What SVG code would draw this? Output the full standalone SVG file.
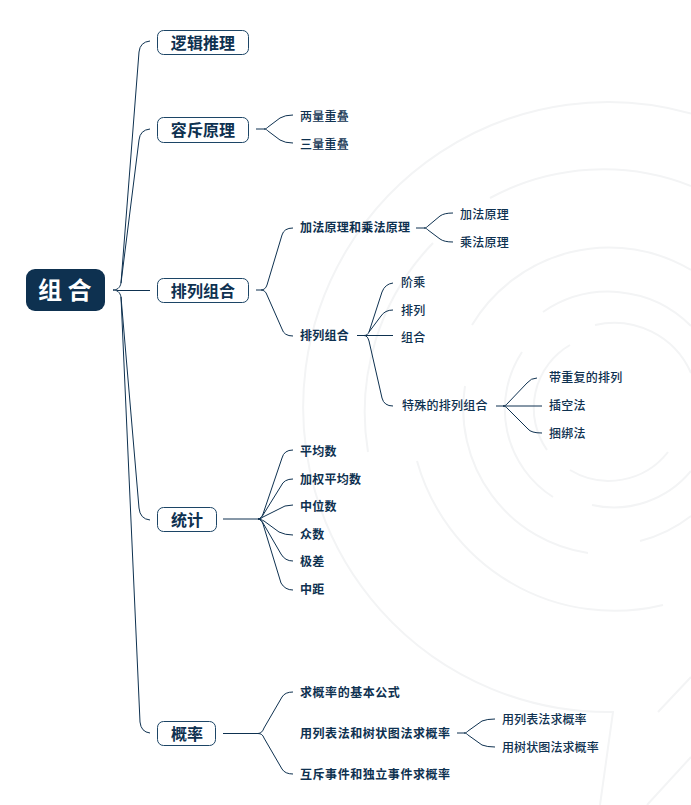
<svg xmlns="http://www.w3.org/2000/svg" width="691" height="805" viewBox="0 0 691 805">
<style>
text{font-family:"Noto Sans CJK SC","Noto Sans",sans-serif;fill:#0e3150}
.bg{fill:none;stroke:#f3f4f5;stroke-width:2}
.c{fill:none;stroke:#0e3150;stroke-width:1}
.box{fill:#fff;stroke:#1c4566;stroke-width:1}
.t1{font-size:16px;font-weight:700;text-anchor:middle;letter-spacing:.1px}
.b{font-size:12px;font-weight:700;letter-spacing:.25px}
.w{letter-spacing:.55px}
.r{font-size:12px;font-weight:500;letter-spacing:.25px}
.n{letter-spacing:.1px}
</style>
<rect width="691" height="805" fill="#fff"/>
<g id="background">
<path class="bg" d="M691 113.500A305 305 0 1 0 613 712L600 805"/>
<path class="bg" d="M490 198A238 238 0 0 1 691 186"/>
<path class="bg" d="M433 243A244 244 0 0 0 368 452"/>
<path class="bg" d="M417 461A205 205 0 0 0 663 605"/>
<path class="bg" d="M472 325A160 160 0 0 1 691 270"/>
<path class="bg" d="M543 312A116 116 0 0 1 691 326"/>
<path class="bg" d="M595 325A84 84 0 0 1 691 373"/>
<path class="bg" d="M465 386A146 146 0 0 0 588 553"/>
<path class="bg" d="M522 352A104 104 0 0 0 553 497"/>
<path class="bg" d="M570 345A73 73 0 0 0 547 450"/>
<path class="bg" d="M570 470A75 75 0 0 0 668 452"/>
<path class="bg" d="M592 505A100 100 0 0 0 691 471"/>
<path class="bg" d="M640 541A138 138 0 0 0 691 516"/>
<path class="bg" d="M658 712L691 677"/>
<path class="bg" d="M647 805L691 757"/>
</g>
<g id="connectors">
<path class="c" d="M113 290C117 290 120 288 121 283L139 52Q140 42 150 41"/>
<path class="c" d="M121 283L139 140Q140 130 150 129"/>
<path class="c" d="M117 290.500H150"/>
<path class="c" d="M113 290C117 290 120 292 121 297L139 508Q140 519 150 520"/>
<path class="c" d="M121 297L140 722Q141 732 150 733"/>
<path class="c" d="M256 129H264C266 129 267 128 268 127L280 118Q285 115 293 115M264 129C266 129 267 130 268 131L280 140Q285 143 293 143"/>
<path class="c" d="M256 290H261C264 290 266 288 267 285L282 235Q284 228 293 228M261 290C264 290 266 292 267 295L282 329Q284 336 293 336"/>
<path class="c" d="M416 228H424C426 228 427 227 428 226L440 216Q444 213 453 213M424 228C426 228 427 229 428 230L440 239Q444 242 453 242"/>
<path class="c" d="M357 335.500H393M364 335.500C367 335.500 368 334 369 332L382 292Q385 284 393 283M369 332L381 316Q385 310 393 310M364 335.500C367 335.500 368 338 369 341L382 398Q384 406 393 406"/>
<path class="c" d="M496 406H542M503 406C505 406 506 405 507 404L527 383Q531 378 537 378M503 406C505 406 506 407 507 408L528 429Q531 433 542 433"/>
<path class="c" d="M223 519H258C260 519 262 517 263 514L282 458Q284 450 293 450M258 519C260 519 262 517 263 515L281 486Q284 479 293 479M258 519C260 519 262 518 263 517L279 509Q284 505 293 505M258 519C260 519 262 520 264 521L279 532Q285 535 293 535M258 519C260 519 262 521 263 523L281 554Q285 561 293 561M258 519C260 519 262 521 263 524L281 583Q285 590 293 590"/>
<path class="c" d="M223 733.500H258C261 733.500 263 731 264 728L282 697Q285 692 293 692M258 733.500C261 733.500 263 735 264 738L282 769Q285 774 293 774"/>
<path class="c" d="M457 733H464C466 733 467 732 468 731L482 721Q487 719 495 719M464 733C466 733 467 734 468 735L482 745Q487 747 495 747"/>
</g>
<g id="root"><rect x="26" y="269" width="79" height="42" rx="9" fill="#0e3150"/><text x="38" y="299" style="font-size:24px;font-weight:700;fill:#fff;letter-spacing:5.500px">组合</text></g>
<g id="n1"><rect class="box" x="157.500" y="30.500" width="91" height="24" rx="6"/><text class="t1" x="203" y="48.500">逻辑推理</text></g>
<g id="n2"><rect class="box" x="157.500" y="117.500" width="91" height="25" rx="6"/><text class="t1" x="203" y="135.500">容斥原理</text></g>
<g id="n3"><rect class="box" x="157.500" y="278.500" width="91" height="24" rx="6"/><text class="t1" x="203" y="296.500">排列组合</text></g>
<g id="n4"><rect class="box" x="157.500" y="507.500" width="59" height="24" rx="6"/><text class="t1" x="187" y="525.500">统计</text></g>
<g id="n5"><rect class="box" x="157.500" y="721.500" width="58" height="24" rx="6"/><text class="t1" x="187" y="739.500">概率</text></g>
<g id="n2a"><text class="r" x="300" y="121">两量重叠</text></g>
<g id="n2b"><text class="r" x="300" y="148.500">三量重叠</text></g>
<g id="n3a"><text class="b" x="300" y="232">加法原理和乘法原理</text></g>
<g id="n3a1"><text class="r" x="460" y="219">加法原理</text></g>
<g id="n3a2"><text class="r" x="460" y="246.500">乘法原理</text></g>
<g id="n3b"><text class="b" x="300" y="340">排列组合</text></g>
<g id="n3b1"><text class="r" x="401" y="287">阶乘</text></g>
<g id="n3b2"><text class="r" x="401" y="314.500">排列</text></g>
<g id="n3b3"><text class="r" x="401" y="342">组合</text></g>
<g id="n3b4"><text class="r" x="402" y="410">特殊的排列组合</text></g>
<g id="n3b4a"><text class="r" x="549" y="382">带重复的排列</text></g>
<g id="n3b4b"><text class="r" x="549" y="410">插空法</text></g>
<g id="n3b4c"><text class="r" x="549" y="437.500">捆绑法</text></g>
<g id="n4a"><text class="b" x="300" y="455.500">平均数</text></g>
<g id="n4b"><text class="b" x="300" y="483.500">加权平均数</text></g>
<g id="n4c"><text class="b" x="300" y="510.500">中位数</text></g>
<g id="n4d"><text class="b" x="300" y="538.500">众数</text></g>
<g id="n4e"><text class="b" x="300" y="566">极差</text></g>
<g id="n4f"><text class="b" x="300" y="594">中距</text></g>
<g id="n5a"><text class="b w" x="300" y="696.500">求概率的基本公式</text></g>
<g id="n5b"><text class="b w" x="300" y="738">用列表法和树状图法求概率</text></g>
<g id="n5b1"><text class="r n" x="502" y="723.500">用列表法求概率</text></g>
<g id="n5b2"><text class="r n" x="502" y="751.500">用树状图法求概率</text></g>
<g id="n5c"><text class="b w" x="300" y="779">互斥事件和独立事件求概率</text></g>
</svg>
